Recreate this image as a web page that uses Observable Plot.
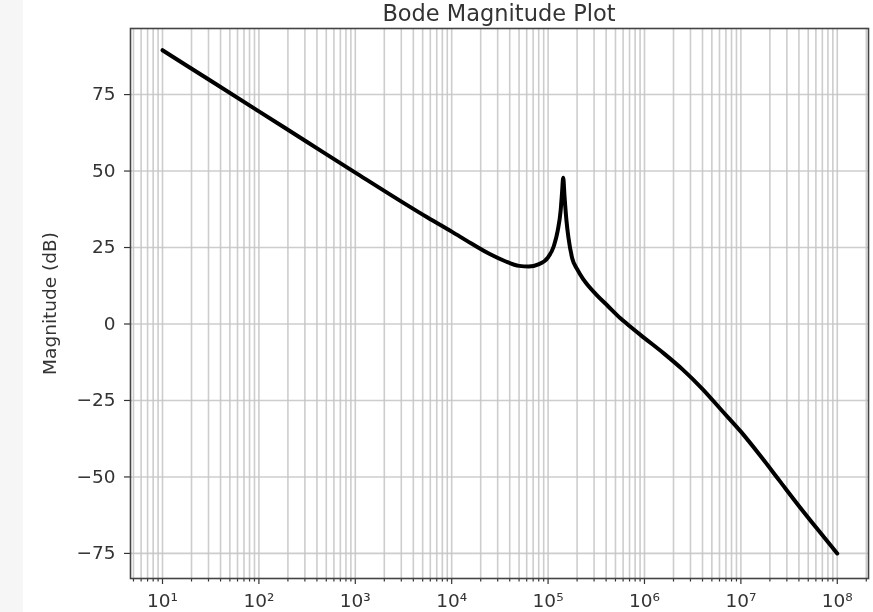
<!DOCTYPE html>
<html>
<head>
<meta charset="utf-8">
<script src="https://cdn.jsdelivr.net/npm/d3@7"></script>
<script src="https://cdn.jsdelivr.net/npm/@observablehq/plot@0.6"></script>
<style>
  html, body { margin: 0; padding: 0; background: #ffffff; }
  #wrap { position: relative; width: 873px; height: 612px; overflow: hidden; background: #ffffff; filter: blur(0.6px); }
  #strip { position: absolute; left: 0; top: 0; width: 23px; height: 612px; background: #f6f6f6; }
  #title { position: absolute; left: 130px; width: 738px; top: 0px; text-align: center;
           font-family: "DejaVu Sans", sans-serif; font-size: 22.5px; line-height: 27px; color: #333; white-space: nowrap; }
  #chart { position: absolute; left: 0; top: 0; }
</style>
</head>
<body>
<div id="wrap">
  <div id="strip"></div>
  <div id="chart"></div>
  <div id="title">Bode Magnitude Plot</div>
</div>
<script>
// Frequency (log10 of Hz) and magnitude (dB)
const logFreq = [1.0, 1.5, 2.0, 2.5, 3.0, 3.5, 3.75, 4.0, 4.2, 4.4, 4.55, 4.7, 4.8, 4.9, 5.0, 5.06, 5.10, 5.13, 5.145, 5.157, 5.17, 5.19, 5.21, 5.25, 5.3, 5.37, 5.5, 5.62, 5.75, 5.82, 6.0, 6.2, 6.4, 6.6, 6.8, 7.0, 7.2, 7.4, 7.6, 7.8, 8.0];
const magnitudeDb = [89.5, 79.5, 69.5, 59.5, 49.5, 39.6, 34.8, 30.2, 26.4, 22.8, 20.6, 19.0, 18.8, 19.5, 21.8, 25.5, 30.5, 37.0, 43.0, 47.8, 42.0, 34.0, 28.5, 21.5, 18.0, 14.4, 9.6, 5.9, 1.9, 0.0, -4.6, -9.6, -15.0, -21.2, -28.2, -35.2, -43.0, -51.2, -59.4, -67.3, -75.0];

const xMajorTicks = [1e1, 1e2, 1e3, 1e4, 1e5, 1e6, 1e7, 1e8];
const xTickLabels = ["10¹", "10²", "10³", "10⁴", "10⁵", "10⁶", "10⁷", "10⁸"];
const yTicks = [-75, -50, -25, 0, 25, 50, 75];
const yTickLabels = ["−75", "−50", "−25", "0", "25", "50", "75"];
const minorMultipliers = [2, 3, 4, 5, 6, 7, 8, 9];

const data = logFreq.map((lf, i) => ({f: Math.pow(10, lf), db: magnitudeDb[i]}));
const xDomain = [Math.pow(10, 0.668), Math.pow(10, 8.324)];
const minorTicks = [];
for (const m of [1e0, ...xMajorTicks]) for (const k of minorMultipliers) {
  const v = m * k; if (v >= xDomain[0] && v <= xDomain[1]) minorTicks.push(v);
}
const xLabelMap = new Map(xMajorTicks.map((v, i) => [v, xTickLabels[i]]));
const yLabelMap = new Map(yTicks.map((v, i) => [v, yTickLabels[i]]));

const gridStyle = {stroke: "#c4c4c4", strokeOpacity: 0.85, strokeWidth: 1.6};

const chart = Plot.plot({
  width: 873,
  height: 612,
  marginLeft: 130,
  marginRight: 5,
  marginTop: 28,
  marginBottom: 34,
  style: {fontFamily: "DejaVu Sans, sans-serif", fontSize: "18.5px", color: "#333", background: "transparent"},
  x: {type: "log", domain: xDomain},
  y: {domain: [-83.2, 96.6]},
  marks: [
    Plot.gridX(minorTicks, gridStyle),
    Plot.gridX(xMajorTicks, gridStyle),
    Plot.gridY(yTicks, gridStyle),
    Plot.axisX(minorTicks, {tickSize: 3.5, tickFormat: () => "", label: null, stroke: "#333", strokeWidth: 1.2}),
    Plot.axisX(xMajorTicks, {tickSize: 6, tickPadding: 9.5, tickFormat: d => xLabelMap.get(d), label: null, stroke: "#333", strokeWidth: 1.2}),
    Plot.axisY(yTicks, {tickSize: 6, tickPadding: 9, tickFormat: d => yLabelMap.get(d), strokeWidth: 1.2,
      label: "Magnitude (dB)", labelAnchor: "center", labelArrow: "none", labelOffset: 88, stroke: "#333"}),
    Plot.line(data, {x: "f", y: "db", stroke: "#000", strokeWidth: 4, curve: "monotone-x", strokeLinejoin: "round", strokeLinecap: "round"}),
    Plot.frame({stroke: "#444", strokeWidth: 1.6})
  ]
});
document.getElementById("chart").appendChild(chart);
</script>
</body>
</html>
